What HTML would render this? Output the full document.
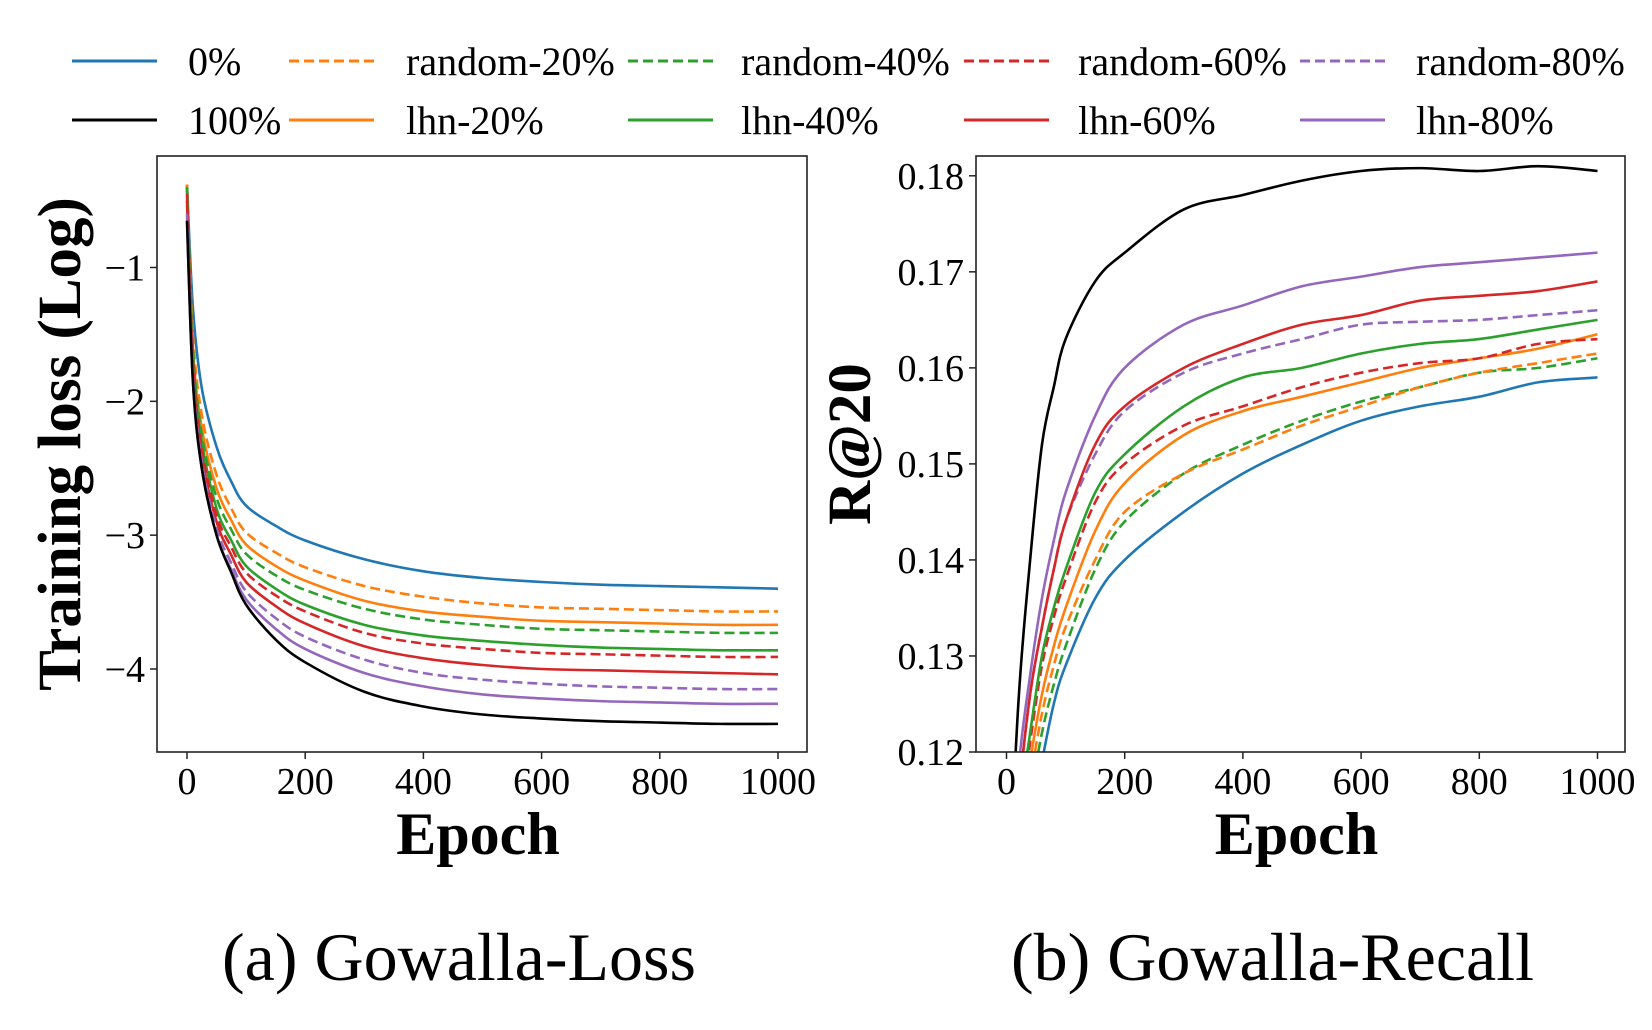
<!DOCTYPE html>
<html><head><meta charset="utf-8"><style>
body{margin:0;background:#fff;width:1652px;height:1030px;overflow:hidden}
svg{display:block;font-family:"Liberation Serif",serif}
</style></head><body>
<svg id="fig" width="1652" height="1030"></svg>
<script>
const NS="http://www.w3.org/2000/svg";
const lossEpochs=[0,10,25,50,75,100,150,200,300,400,500,600,700,800,900,1000];
const loss0=[-0.38,-1.3,-1.9,-2.34,-2.6,-2.78,-2.93,-3.04,-3.18,-3.27,-3.32,-3.35,-3.37,-3.38,-3.39,-3.40];
const lossR20=[-0.38,-1.5,-2.1,-2.55,-2.8,-2.98,-3.13,-3.24,-3.38,-3.46,-3.51,-3.54,-3.55,-3.56,-3.57,-3.57];
const lossR40=[-0.40,-1.6,-2.25,-2.72,-2.96,-3.14,-3.30,-3.41,-3.55,-3.63,-3.67,-3.70,-3.71,-3.72,-3.73,-3.73];
const lossL20=[-0.38,-1.6,-2.2,-2.65,-2.89,-3.07,-3.23,-3.34,-3.49,-3.57,-3.61,-3.64,-3.65,-3.66,-3.67,-3.67];
const lossL40=[-0.40,-1.65,-2.3,-2.8,-3.04,-3.23,-3.40,-3.52,-3.67,-3.75,-3.79,-3.82,-3.84,-3.85,-3.86,-3.86];
const lossR60=[-0.45,-1.7,-2.35,-2.85,-3.09,-3.28,-3.45,-3.57,-3.73,-3.81,-3.85,-3.88,-3.89,-3.90,-3.91,-3.91];
const lossL60=[-0.50,-1.75,-2.4,-2.9,-3.15,-3.35,-3.53,-3.66,-3.83,-3.92,-3.97,-4.00,-4.01,-4.02,-4.03,-4.04];
const lossR80=[-0.6,-1.8,-2.45,-2.95,-3.21,-3.42,-3.62,-3.76,-3.93,-4.03,-4.08,-4.11,-4.13,-4.14,-4.15,-4.15];
const lossL80=[-0.65,-1.85,-2.5,-3.0,-3.26,-3.48,-3.70,-3.85,-4.03,-4.13,-4.19,-4.22,-4.24,-4.25,-4.26,-4.26];
const loss100=[-0.65,-1.85,-2.5,-3.0,-3.28,-3.52,-3.78,-3.95,-4.17,-4.28,-4.34,-4.37,-4.39,-4.40,-4.41,-4.41];
const recEpochs=[0,20,40,60,80,100,150,200,300,400,500,600,700,800,900,1000];
const rec100=[.10,.125,.14,.152,.158,.163,.169,.172,.1765,.178,.1795,.1805,.1808,.1805,.181,.1805];
const recL80=[.10,.118,.128,.136,.142,.147,.155,.160,.1645,.1665,.1685,.1695,.1705,.171,.1715,.172];
const recL60=[.10,.115,.126,.133,.139,.144,.152,.156,.160,.1625,.1645,.1655,.167,.1675,.168,.169];
const recR80=[.10,.115,.126,.133,.139,.144,.151,.1555,.1595,.1615,.163,.1645,.1648,.165,.1655,.166];
const recL40=[.10,.113,.122,.130,.135,.139,.147,.151,.156,.159,.160,.1615,.1625,.163,.164,.165];
const recR60=[.10,.112,.121,.129,.134,.138,.146,.150,.154,.156,.158,.1595,.1605,.161,.1625,.163];
const recL20=[.10,.110,.119,.126,.131,.135,.143,.148,.153,.1555,.157,.1585,.160,.161,.162,.1635];
const recR20=[.10,.109,.117,.124,.129,.133,.140,.145,.149,.1515,.154,.156,.158,.1595,.1605,.1615];
const recR40=[.10,.107,.115,.122,.127,.131,.139,.144,.149,.152,.1545,.1565,.158,.1595,.160,.161];
const rec0=[.10,.104,.112,.119,.125,.129,.136,.140,.145,.149,.152,.1545,.156,.157,.1585,.159];
const xTicks=[0,200,400,600,800,1000];
const lossTicks=[-1,-2,-3,-4];
const recTicks=[0.12,0.13,0.14,0.15,0.16,0.17,0.18];
const C={blue:"#1f77b4",orange:"#ff7f0e",green:"#2ca02c",red:"#d62728",purple:"#9467bd",black:"#000"};
const svg=document.getElementById('fig');
function el(t,a,p){const e=document.createElementNS(NS,t);for(const k in a)e.setAttribute(k,a[k]);(p||svg).appendChild(e);return e;}
function txt(s,a,p){const e=el('text',a,p);e.textContent=s;return e;}
function smooth(pts){let d="M"+pts[0][0]+","+pts[0][1];for(let i=0;i<pts.length-1;i++){const p0=pts[Math.max(0,i-1)],p1=pts[i],p2=pts[i+1],p3=pts[Math.min(pts.length-1,i+2)];const c1=[p1[0]+(p2[0]-p0[0])/6,p1[1]+(p2[1]-p0[1])/6],c2=[p2[0]-(p3[0]-p1[0])/6,p2[1]-(p3[1]-p1[1])/6];d+=` C${c1[0]},${c1[1]} ${c2[0]},${c2[1]} ${p2[0]},${p2[1]}`;}return d;}
const leg=[["0%",C.blue,0],["random-20%",C.orange,1],["random-40%",C.green,1],["random-60%",C.red,1],["random-80%",C.purple,1],
["100%",C.black,0],["lhn-20%",C.orange,0],["lhn-40%",C.green,0],["lhn-60%",C.red,0],["lhn-80%",C.purple,0]];
const lx=[72,289,628,964,1300],tx=[188,406,741,1078,1416],ly=[61,120];
leg.forEach((l,i)=>{const c=i%5,r=Math.floor(i/5);const g=el('g',{});


el('line',{x1:lx[c],x2:lx[c]+85,y1:ly[r],y2:ly[r],stroke:l[1],'stroke-width':3,'stroke-dasharray':l[2]?'10,5':'none'},g);
txt(l[0],{x:tx[c],y:ly[r]+14,'font-size':40},g);});
function panel(o){
 const g=el('g',{});
 const X=v=>o.x0+(v-o.xmin)/(o.xmax-o.xmin)*(o.x1-o.x0);
 const Y=v=>o.y0+(v-o.ymin)/(o.ymax-o.ymin)*(o.y1-o.y0);
 const cid='clip'+o.name;const cp=el('clipPath',{id:cid},g);el('rect',{x:o.L,y:o.T,width:o.R-o.L,height:o.B-o.T},cp);
 const lg=el('g',{'clip-path':`url(#${cid})`},g);
 o.series.forEach(s=>{const p=el('path',{d:smooth(o.ep.map((e,i)=>[X(e),Y(s.v[i])])),fill:'none',stroke:s.c,'stroke-width':2.6,'stroke-dasharray':s.d?'10,5':'none','stroke-linejoin':'round'},lg);
 });
 el('rect',{x:o.L,y:o.T,width:o.R-o.L,height:o.B-o.T,fill:'none',stroke:'#222','stroke-width':1.6},g);
 xTicks.forEach(t=>{el('line',{x1:X(t),x2:X(t),y1:o.B,y2:o.B+7,stroke:'#222','stroke-width':1.5},g);
 const e=txt(String(t),{x:X(t),y:o.B+42,'font-size':38,'text-anchor':'middle'},g);});
 o.yt.forEach(t=>{el('line',{x1:o.L-7,x2:o.L,y1:Y(t),y2:Y(t),stroke:'#222','stroke-width':1.5},g);
 const e=txt(o.fmt(t),{x:o.L-12,y:Y(t)+13,'font-size':38,'text-anchor':'end'},g);});
 const xl=txt('Epoch',{x:(o.L+o.R)/2-4,y:o.B+102,'font-size':60,'font-weight':'bold','text-anchor':'middle'},g);
 const yl=txt(o.ylab,{x:0,y:0,'font-size':61,'font-weight':'bold','text-anchor':'middle',transform:`translate(${o.ylx},${(o.T+o.B)/2-10}) rotate(-90)`},g);
 const cap=txt(o.cap,{x:(o.L+o.R)/2+o.capOff,y:980,'font-size':68,'text-anchor':'middle'},g);
}
panel({name:'loss-panel',L:157,R:807,T:156,B:752,x0:187,x1:778,xmin:0,xmax:1000,y0:267.5,y1:669,ymin:-1,ymax:-4,ep:lossEpochs,yt:lossTicks,
 fmt:t=>'\u2212'+Math.abs(t),ylab:'Training loss (Log)',ylx:80,cap:'(a) Gowalla-Loss',capOff:-23,
 series:[{n:'0pct',v:loss0,c:C.blue},{n:'random-20',v:lossR20,c:C.orange,d:1},{n:'lhn-20',v:lossL20,c:C.orange},{n:'random-40',v:lossR40,c:C.green,d:1},{n:'lhn-40',v:lossL40,c:C.green},{n:'random-60',v:lossR60,c:C.red,d:1},{n:'lhn-60',v:lossL60,c:C.red},{n:'random-80',v:lossR80,c:C.purple,d:1},{n:'lhn-80',v:lossL80,c:C.purple},{n:'100pct',v:loss100,c:C.black}]});
panel({name:'recall-panel',L:976,R:1625,T:156,B:752,x0:1006.5,x1:1597.5,xmin:0,xmax:1000,y0:175.8,y1:752,ymin:0.18,ymax:0.12,ep:recEpochs,yt:recTicks,
 fmt:t=>t.toFixed(2),ylab:'R@20',ylx:870,cap:'(b) Gowalla-Recall',capOff:-28,
 series:[{n:'0pct',v:rec0,c:C.blue},{n:'random-40',v:recR40,c:C.green,d:1},{n:'random-20',v:recR20,c:C.orange,d:1},{n:'lhn-20',v:recL20,c:C.orange},{n:'random-60',v:recR60,c:C.red,d:1},{n:'lhn-40',v:recL40,c:C.green},{n:'random-80',v:recR80,c:C.purple,d:1},{n:'lhn-60',v:recL60,c:C.red},{n:'lhn-80',v:recL80,c:C.purple},{n:'100pct',v:rec100,c:C.black}]});
</script>
</body></html>
